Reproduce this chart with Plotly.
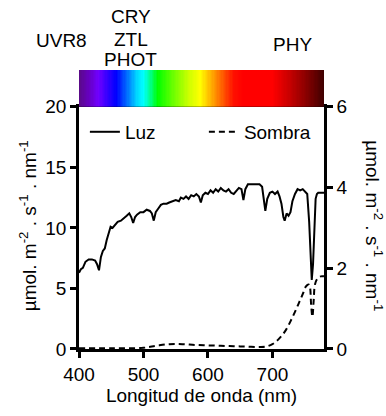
import plotly.graph_objects as go

# ---------------- data ----------------
wl_luz = [400, 403, 406, 410, 415, 420, 425, 428, 431, 434, 437, 440, 443, 446, 449, 452, 456, 460,
          465, 470, 474, 478, 481, 484, 487, 490, 495, 500, 505, 510, 513, 516, 519, 523, 527, 531,
          536, 540, 545, 550, 555, 558, 562, 566, 570, 574, 578, 582, 586, 589, 592, 596, 600, 604,
          608, 612, 616, 620, 624, 628, 632, 636, 640, 644, 648, 652, 655, 658, 662, 666, 670, 675,
          680, 684, 687, 689, 692, 696, 700, 704, 708, 711, 714, 717, 719, 722, 725, 728, 731, 735,
          739, 743, 747, 750, 754, 757, 759, 761, 763, 765, 767, 769, 771, 775, 780]
luz = [6.3, 6.6, 6.7, 7.2, 7.4, 7.4, 7.3, 7.0, 6.5, 7.6, 8.1, 8.3, 9.0, 9.5, 10.1, 10.0, 10.3, 10.5,
       10.6, 10.8, 11.0, 11.2, 10.9, 10.4, 10.9, 11.1, 11.3, 11.3, 11.5, 11.4, 11.2, 10.6, 11.3, 11.6, 11.9, 12.0,
       12.0, 12.1, 12.2, 12.3, 12.2, 12.5, 12.4, 12.6, 12.4, 12.7, 12.6, 12.8, 12.6, 12.1, 12.7, 12.9, 12.8, 13.1,
       12.9, 13.2, 13.0, 13.3, 13.1, 13.0, 13.2, 12.9, 12.8, 13.1, 13.3, 13.2, 12.3, 13.2, 13.6, 13.6, 13.6, 13.6,
       13.6, 13.4, 12.2, 11.4, 12.4, 12.9, 13.0, 12.8, 13.0, 12.6, 12.0, 10.9, 10.6, 11.2, 11.0, 11.3, 12.2, 12.8,
       13.2, 13.1, 13.2, 13.0, 12.8, 10.5, 7.5, 5.7, 7.0, 10.5, 12.4, 12.8, 12.9, 12.9, 12.9]

wl_sombra = [400, 450, 500, 520, 540, 560, 580, 600, 620, 640, 660, 680, 690, 700, 710, 720, 730, 740,
             748, 752, 756, 758, 760, 762, 764, 766, 770, 775, 780]
sombra = [0.02, 0.02, 0.03, 0.08, 0.12, 0.12, 0.10, 0.09, 0.08, 0.07, 0.06, 0.05, 0.06, 0.12, 0.25, 0.45,
          0.75, 1.1, 1.4, 1.55, 1.6, 1.55, 1.1, 0.8, 1.2, 1.6, 1.75, 1.8, 1.8]

spectrum_wl = list(range(400, 781, 2))

receptor_labels = ["UVR8", "CRY", "ZTL", "PHOT", "PHY"]

left_ticks = [0, 5, 10, 15, 20]
right_ticks = [0, 2, 4, 6]
x_ticks = [400, 500, 600, 700]

# ---------------- style ----------------
FONT = "Liberation Sans, Arial, sans-serif"
FS = 19
spectrum_stops = [(400, "#5a0a88"), (415, "#6600c0"), (430, "#7000ff"), (445, "#3000ff"),
                  (458, "#0000ff"), (475, "#0070ff"), (490, "#00d8ff"), (500, "#00ffff"),
                  (512, "#00ff80"), (522, "#00ff00"), (545, "#66ff00"), (570, "#ccff00"),
                  (588, "#ffff00"), (605, "#ffb000"), (622, "#ff6000"), (640, "#ff1000"),
                  (655, "#ff0000"), (700, "#ff0000"), (725, "#cc0000"), (750, "#900000"),
                  (780, "#400000")]
colorscale = [[(w - 400) / 380, c] for w, c in spectrum_stops]

MAIN_TOP = 0.868

fig = go.Figure()

fig.add_trace(go.Heatmap(x=spectrum_wl, y=[0], z=[spectrum_wl], colorscale=colorscale,
                         showscale=False, zmin=400, zmax=780, xaxis="x", yaxis="y3",
                         hoverinfo="skip", showlegend=False))

fig.add_trace(go.Scatter(x=wl_luz, y=luz, mode="lines", name="Luz",
                         line=dict(color="black", width=2), yaxis="y"))
fig.add_trace(go.Scatter(x=wl_sombra, y=sombra, mode="lines", name="Sombra",
                         line=dict(color="black", width=2, dash="6px,4px", shape="spline"),
                         yaxis="y2"))

axis_common = dict(showgrid=False, zeroline=False, showline=True, linecolor="black",
                   linewidth=2.5, ticks="outside", ticklen=6, tickwidth=2.5, tickcolor="black",
                   tickfont=dict(family=FONT, size=FS, color="black"))

fig.update_layout(
    width=386, height=416,
    margin=dict(l=79, r=62, t=70, b=62),
    paper_bgcolor="white", plot_bgcolor="white",
    font=dict(family=FONT, size=FS, color="black"),
    xaxis=dict(range=[400, 780], tickvals=x_ticks, mirror=True,
               title=dict(text="Longitud de onda (nm)", font=dict(family=FONT, size=FS), standoff=6),
               **axis_common),
    yaxis=dict(range=[0, 20], tickvals=left_ticks, domain=[0, MAIN_TOP], **axis_common),
    yaxis2=dict(range=[0, 6], tickvals=right_ticks, overlaying="y", side="right", **axis_common),
    yaxis3=dict(domain=[MAIN_TOP, 1.0], range=[-0.5, 0.5], visible=False, fixedrange=True),
    legend=dict(orientation="h", x=0.024, y=0.778, xanchor="left", yanchor="middle",
                bgcolor="rgba(0,0,0,0)", font=dict(family=FONT, size=FS),
                entrywidth=74, entrywidthmode="pixels", itemwidth=30),
    showlegend=True,
)

ann = []
ytitle = "µmol. m<sup>-2</sup> . s<sup>-1</sup> . nm<sup>-1</sup>"
ann.append(dict(text=ytitle, xref="paper", yref="paper", x=-0.208, y=0.44, textangle=-90,
                showarrow=False, xanchor="center", yanchor="middle", font=dict(family=FONT, size=FS)))
ann.append(dict(text=ytitle, xref="paper", yref="paper", x=1.204, y=0.44, textangle=90,
                showarrow=False, xanchor="center", yanchor="middle", font=dict(family=FONT, size=FS)))
label_pos = {"UVR8": (-0.072, 1.105), "CRY": (0.212, 1.192), "ZTL": (0.212, 1.11),
             "PHOT": (0.212, 1.036), "PHY": (0.871, 1.092)}
for lab in receptor_labels:
    x, y = label_pos[lab]
    ann.append(dict(text=lab, xref="paper", yref="paper", x=x, y=y, showarrow=False,
                    xanchor="center", yanchor="middle", font=dict(family=FONT, size=FS)))
fig.update_layout(annotations=ann)

fig.write_html("out.html")
